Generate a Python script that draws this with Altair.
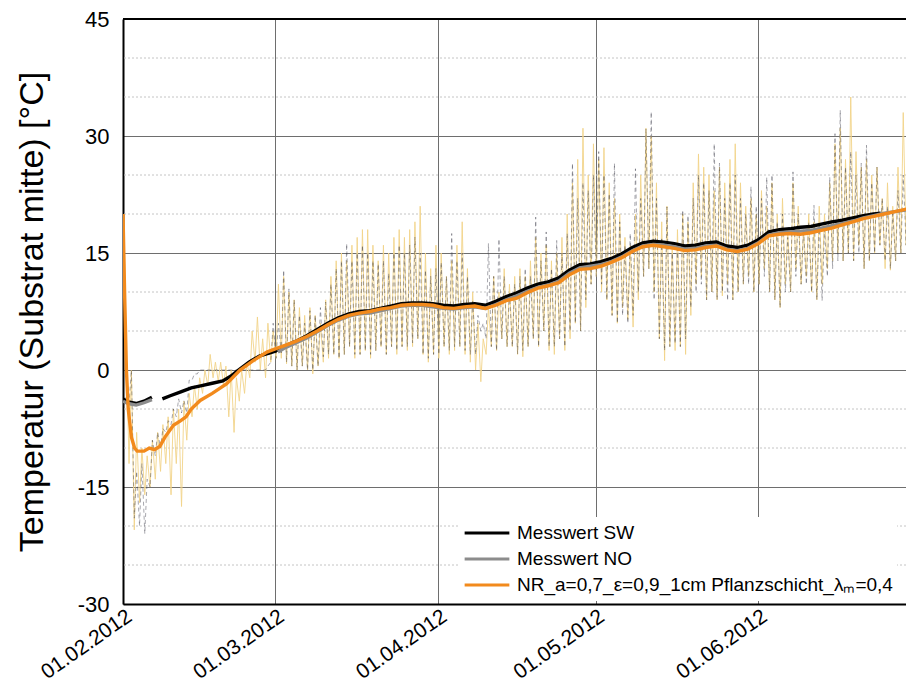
import altair as alt
import pandas as pd

BASE = pd.Timestamp("2012-02-01")

# ---------------- thick smoothed series (day offset from 01.02.2012, value) ----------------
sw_days = [0, 1, 2.5, 4, 5.5, 6.5, 7.5, 9, 11, 13, 15, 17, 19, 20.5, 22, 24, 26, 28, 29] + list(range(31, 144, 2)) + [144.3]
sw_vals = [-3.7, -4.1, -4.3, -4.0, -3.5, None, -3.7, -3.3, -2.8, -2.3, -2.0, -1.7, -1.4, -0.8, 0.0, 1.0, 1.8, 2.2, 2.4,
           3.1, 3.7, 4.4, 5.2, 6.0, 6.7, 7.2, 7.5, 7.6, 7.9,
           8.2, 8.5, 8.6, 8.6, 8.5, 8.3, 8.2, 8.4, 8.5, 8.3,
           8.8, 9.4, 9.9, 10.5, 11.0, 11.3, 11.8, 12.8, 13.5, 13.6,
           13.9, 14.3, 14.9, 15.7, 16.3, 16.5, 16.4, 16.2, 15.9, 16.0,
           16.3, 16.4, 15.9, 15.7, 16.0, 16.7, 17.7, 18.0, 18.1, 18.3,
           18.4, 18.7, 19.0, 19.2, 19.5, 19.8, 20.0, 20.1]

no_days = [0, 1, 2.5, 4, 5.5, 17, 29.5] + list(range(31, 152, 2))
no_vals = [-4.0, -4.3, -4.5, -4.2, -3.8, None, 2.3,
           2.9, 3.5, 4.1, 4.9, 5.7, 6.4, 6.9, 7.2, 7.3, 7.6,
           7.9, 8.2, 8.3, 8.3, 8.1, 7.9, 7.8, 8.0, 8.1, 7.9,
           8.4, 9.0, 9.5, 10.1, 10.6, 10.9, 11.4, 12.4, 13.1, 13.3,
           13.5, 13.9, 14.5, 15.3, 15.9, 16.1, 16.0, 15.8, 15.5, 15.6,
           15.9, 16.0, 15.5, 15.3, 15.6, 16.3, 17.3, 17.6, 17.7, 17.8,
           17.9, 18.2, 18.5, 18.8, 19.1, 19.5, 19.8, 20.1, 20.3, 20.5,
           20.7]

nr_days = [0, 0.3, 0.65, 1.0, 1.6, 2.2, 2.7, 4, 5, 6, 7, 8, 9.6, 11, 12, 13, 14.7, 17, 19.7, 22.3, 24.8, 27.4, 29] + list(range(31, 152, 2))
nr_vals = [20, 10, 0, -5, -8.6, -10, -10.4, -10.4, -10.0, -10.2, -9.8, -8.6, -7.1, -6.5, -6.0, -5.0, -3.9, -3.0, -1.8, 0.0, 1.2, 2.3, 2.7,
           3.2, 3.7, 4.3, 5.0, 5.8, 6.5, 7.0, 7.3, 7.5, 7.8,
           8.0, 8.3, 8.4, 8.4, 8.3, 8.0, 7.9, 8.1, 8.2, 7.9,
           8.3, 8.9, 9.2, 9.9, 10.5, 10.8, 11.2, 12.2, 12.9, 13.0,
           13.3, 13.8, 14.4, 15.2, 15.8, 16.0, 15.8, 15.6, 15.3, 15.4,
           15.7, 15.9, 15.4, 15.2, 15.5, 16.2, 17.2, 17.4, 17.5, 17.4,
           17.6, 17.9, 18.2, 18.6, 19.0, 19.4, 19.7, 20.0, 20.3, 20.6,
           20.9]

# ---------------- raw daily values (days 0..150): morning and afternoon readings ----------------
yellow_morning = [20, -12, -20.5, -17, -16, -15, -14, -13, -12, -16, -12, -17.5, -9, -6, -5, -3, -2, -1, -1.5, -2,
                  -6, -8, -4, -3, -1, 1, 0, -1, 1,
                  1.5, 1.5, 0.8, 0.5, 0, 0.5, 0, -0.5, 0.5, 1,
                  1.5, 2, 1.5, 2, 3, 1.5, 2, 2.5, 1.5, 2.5,
                  3, 2, 3, 2, 3, 2.5, 3, 4, 2, 1,
                  2, 1.5, 3, 2, 2.5, 3, 2, 1, 0, -1.5,
                  2, 3, 2.5, 4, 3, 3, 2,
                  1.7, 3, 4, 3, 5, 2.5, 2, 4, 2.5, 4,
                  6, 5, 8, 11, 12, 10, 9, 7, 6, 8,
                  6.5, 5.5, 9, 12, 13, 10, 4, 1.2, 3, 2.5,
                  3, 2, 7, 11, 12, 9, 10, 9, 9.5, 11,
                  9, 10, 11, 12, 10, 11, 13, 10, 9, 8,
                  11, 10, 13, 11, 12, 10, 9, 11, 13, 14,
                  15, 14, 15, 14, 16, 13, 14, 15, 16, 13,
                  12.8, 14, 15, 16, 15]
yellow_afternoon = [4, 0, -8, -10, -11, -9, -8, -7, -6, -5, -5, -4, -3, -2, -1, 0, 2, 1, 1, 0.5,
                    0, -1, 0, 1, 5, 6.8, 4, 6, 5,
                    11, 12, 10, 9, 8, 7, 8, 7, 6, 9,
                    12, 14, 15, 14, 16, 17, 18, 18, 16, 14,
                    16, 15, 17, 18, 17, 18, 19, 21, 15, 13,
                    16, 15, 12, 14, 16, 19, 13, 10, 6, 4,
                    8, 12, 10, 13, 11, 12, 13,
                    12, 14, 17, 15, 16, 14, 15, 17, 20, 24,
                    27, 31, 25, 29, 27, 28.5, 24, 22, 20, 17,
                    16, 20, 25, 31, 30, 24, 19, 21, 16, 18,
                    20, 19, 24, 27.7, 26, 25, 23, 26, 24, 27,
                    29, 24, 21, 22, 20, 23, 21, 24, 20, 22,
                    18, 24, 21, 18, 20, 19, 21, 20, 24, 29,
                    31, 27, 35, 28, 26, 27, 25, 26, 22, 24,
                    21, 26, 33, 29, 30]
dark_morning = [-4.5, -4.3, -19, -20, -21, -15, -11, -10, -8, -7, -6, -5.5, -5.5, -1.3, -0.5,
                0, 0, 0, 0, 0, 0, 0, 0, 0, 0, 0, 0, 0, 1,
                1.5, 2, 1, 0.5, 0, 0.5, 0, 0, 0.5, 1.7,
                2, 2, 1.5, 2, 3, 2, 2, 2.5, 2, 2.5,
                3, 2, 3, 2.5, 3, 3, 3.5, 4, 2, 1.5,
                2, 2, 3, 2.5, 3, 3, 2.5, 2, 2, 5,
                4, 3, 2.5, 4, 3, 3, 2.1,
                2.5, 3, 4, 3, 5, 3, 3, 4, 3, 5,
                6, 5, 9, 11, 12, 11, 9, 7, 6, 7,
                6, 7, 10, 12, 13, 9, 4, 2.5, 3, 3.4,
                3, 4, 8, 10, 11, 9, 10, 9, 10, 8.9,
                9, 10, 11, 11, 10, 11, 12, 10, 9, 8,
                10, 10, 12, 11, 11, 10, 9, 8.9, 12, 13,
                14, 14, 15, 14, 15, 13, 14, 15, 16, 14,
                13, 14, 15, 16, 15]
dark_afternoon = [-3.5, 0, -13, -12, -14, -9, -8, -7.5, -6.5, -5, -3.7, -3.9, -1.3, -0.5, 0,
                  0, 0, 0, 0, 0, 0, 0, 0, 0, 0, 0, 0, 0.5, 6,
                  6, 12.8, 10.4, 9, 7, 6, 7.6, 7, 8, 8.7,
                  11, 13, 14, 16.2, 14, 15, 16, 15, 14, 13.6,
                  14, 12.4, 15, 16, 15, 16, 17, 15, 12.8, 12,
                  13, 13.8, 12, 17.5, 14, 15, 12, 9, 7, 6,
                  16.2, 12, 16.8, 12, 10, 11, 12,
                  13, 12, 19.6, 14, 17.7, 13, 16.6, 15, 17.5, 26.5,
                  22, 24, 23, 25, 28, 25, 22.6, 26.5, 19, 16,
                  17.5, 25.8, 22, 30.9, 33.1, 22, 17, 20.9, 15, 16,
                  20.5, 19.8, 22, 25, 24, 23, 29, 26.5, 22, 24,
                  25, 22, 20, 23.5, 21, 22, 24.7, 25, 19, 20,
                  17, 25.4, 20, 18, 19, 21.1, 19, 18, 24.7, 30.3,
                  33.3, 26, 28, 25, 26.5, 28.8, 24, 26, 22, 21,
                  20, 23, 25, 24, 26]

series_names = ["Messwert SW", "Messwert NO",
                "NR_a=0,7_ε=0,9_1cm Pflanzschicht_λₘ=0,4"]
series_colors = ["#000000", "#8c8c8c", "#f28a1c"]
y_ticks = [-30, -15, 0, 15, 30, 45]
y_minor = [-25, -20, -10, -5, 5, 10, 20, 25, 35, 40]
month_starts = [(2012, 2, 1), (2012, 3, 1), (2012, 4, 1), (2012, 5, 1), (2012, 6, 1)]


def to_time(d):
    return BASE + pd.Timedelta(days=float(d))


# thick lines table
rows = []
for name, days, vals in zip(series_names, [sw_days, no_days, nr_days], [sw_vals, no_vals, nr_vals]):
    seg = 0
    for d, v in zip(days, vals):
        if v is None:
            seg += 1
            continue
        rows.append({"t": to_time(d), "v": v, "series": name, "seg": f"{name}-{seg}"})
thick = pd.DataFrame(rows)


def raw_table(morning, afternoon):
    r = []
    for i, (a, b) in enumerate(zip(morning, afternoon)):
        r.append({"t": to_time(i + 0.15), "v": a})
        r.append({"t": to_time(i + 0.6), "v": b})
    return pd.DataFrame(r)


yellow = raw_table(yellow_morning, yellow_afternoon)
dark = raw_table(dark_morning, dark_afternoon)

FONT = "Liberation Sans"
x_scale = alt.Scale(domain=[alt.DateTime(year=2012, month=2, date=1),
                            alt.DateTime(year=2012, month=6, date=29, hours=3)])
y_scale = alt.Scale(domain=[-30, 45], nice=False, zero=False)

x_axis = alt.Axis(values=[alt.DateTime(year=y, month=m, date=d) for y, m, d in month_starts],
                  format="%d.%m.%Y", labelAngle=325, labelAlign="right", labelBaseline="top",
                  labelFontSize=21, labelFont=FONT, labelColor="black", labelPadding=1,
                  labelOverlap=False, labelBound=False, ticks=False,
                  grid=True, gridColor="#6e6e6e", gridWidth=1,
                  domainColor="black", domainWidth=2, title=None)
y_axis = alt.Axis(values=y_ticks, labelExpr="'' + datum.value",
                  labelFontSize=22, labelFont=FONT, labelColor="black",
                  labelPadding=14, ticks=False, grid=True, gridColor="#6e6e6e", gridWidth=1,
                  domainColor="black", domainWidth=2,
                  title="Temperatur (Substrat mitte) [°C]", titleFont=FONT, titleFontSize=34,
                  titleFontWeight="normal", titleColor="black", titlePadding=28)

minor = alt.Chart(pd.DataFrame({"v": y_minor})).mark_rule(
    color="#c4c4c4", strokeDash=[2, 2], strokeWidth=1
).encode(y=alt.Y("v:Q", scale=y_scale, axis=y_axis))

yellow_line = alt.Chart(yellow).mark_line(color="#f2d48a", strokeWidth=1, opacity=0.9, clip=True).encode(
    x=alt.X("t:T", scale=x_scale, axis=x_axis),
    y=alt.Y("v:Q", scale=y_scale, axis=y_axis),
)
dark_line = alt.Chart(dark).mark_line(color="#3f3f4c", strokeWidth=0.9, opacity=0.5,
                                      strokeDash=[4, 3], clip=True).encode(
    x=alt.X("t:T", scale=x_scale),
    y=alt.Y("v:Q", scale=y_scale),
)

thick_lines = alt.Chart(thick).mark_line(strokeWidth=3.4, clip=True).encode(
    x=alt.X("t:T", scale=x_scale),
    y=alt.Y("v:Q", scale=y_scale),
    color=alt.Color("series:N",
                    scale=alt.Scale(domain=series_names, range=series_colors),
                    legend=alt.Legend(title=None, orient="none", legendX=336, legendY=498,
                                      fillColor="white", padding=4,
                                      symbolType="stroke", symbolSize=2000, symbolStrokeWidth=3,
                                      clipHeight=24, rowPadding=2, labelOffset=6,
                                      labelFont=FONT, labelFontSize=19, labelColor="black",
                                      labelLimit=0)),
    detail="seg:N",
    order=alt.Order("t:T"),
)

top_border = alt.Chart(pd.DataFrame({"v": [45]})).mark_rule(color="black", strokeWidth=2).encode(
    y=alt.Y("v:Q", scale=y_scale)
)

chart = alt.layer(minor, yellow_line, dark_line, thick_lines, top_border).properties(
    width=783, height=585,
    autosize=alt.AutoSizeParams(type="none"),
    padding={"left": 115, "top": 11, "right": 0, "bottom": 79},
).configure_view(stroke=None)

chart.save("out.html", embed_options={"renderer": "svg", "actions": False})
